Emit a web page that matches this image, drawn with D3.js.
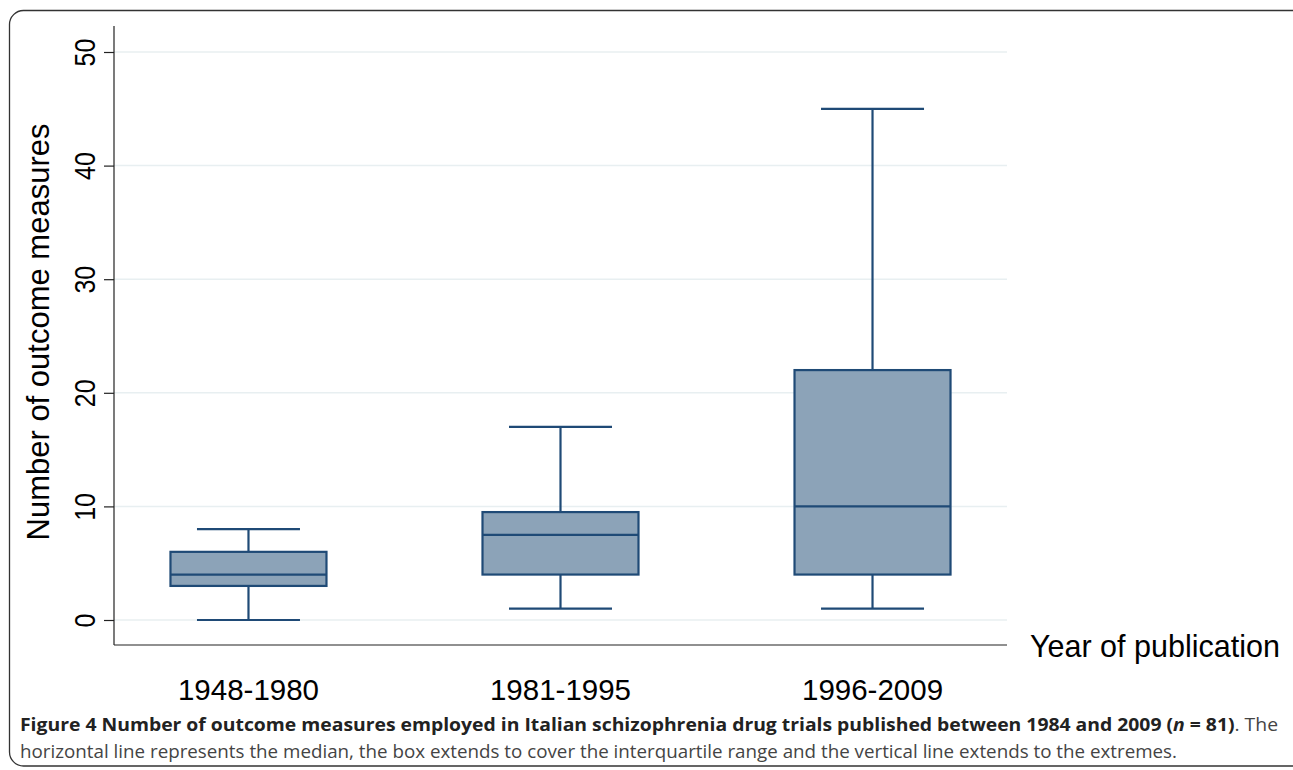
<!DOCTYPE html>
<html><head><meta charset="utf-8">
<script src="https://cdn.jsdelivr.net/npm/d3@7"></script>
<style>body{margin:0;background:#fff}svg{display:block}</style>
</head><body>
<svg id="c" width="1293" height="770"></svg>
<script>
const categories = ["1948-1980", "1981-1995", "1996-2009"];
const mins    = [0, 1, 1];
const q1s     = [3, 4, 4];
const medians = [4, 7.5, 10];
const q3s     = [6, 9.5, 22];
const maxs    = [8, 17, 45];
const yTicks  = [0, 10, 20, 30, 40, 50];

const svg = d3.select("#c");
const fill = "#8ca3b8", stroke = "#1f4a76";
const FONT = "Liberation Sans, Arial, sans-serif";

// frame
svg.append("rect").attr("x", 9.5).attr("y", 10.5).attr("width", 1300).attr("height", 755.5)
  .attr("rx", 14).attr("fill", "none").attr("stroke", "#333").attr("stroke-width", 1.3);

const y = d3.scaleLinear().domain([0, 50]).range([620, 52]);
const x = d3.scalePoint().domain(categories).range([114, 1007]).padding(0.431);

// gridlines
svg.append("g").selectAll("line").data(yTicks).join("line")
  .attr("x1", 114).attr("x2", 1007).attr("y1", d => y(d)).attr("y2", d => y(d))
  .attr("stroke", "#e8eff1").attr("stroke-width", 1.5);

// y axis
const ya = svg.append("g").attr("transform", "translate(114,0)")
  .call(d3.axisLeft(y).tickValues(yTicks).tickSize(10).tickPadding(6));
ya.select(".domain").remove();
ya.append("line").attr("x1", 0).attr("x2", 0).attr("y1", 26).attr("y2", 645).attr("stroke", "#222").attr("stroke-width", 1.2);
ya.selectAll(".tick line").attr("stroke", "#222").attr("stroke-width", 1.2);
ya.selectAll(".tick text").attr("font-family", FONT).attr("font-size", 25)
  .attr("fill", "#000").attr("text-anchor", "middle").attr("dy", null)
  .attr("transform", "translate(-29,0) scale(1.15,1) rotate(-90)").attr("x", 0).attr("y", 0)
  .attr("dominant-baseline", "central");

// x axis
svg.append("line").attr("x1", 114).attr("x2", 1007).attr("y1", 645).attr("y2", 645).attr("stroke", "#222").attr("stroke-width", 1.2);
svg.append("g").selectAll("text").data(categories).join("text")
  .attr("x", d => x(d)).attr("y", 700).attr("text-anchor", "middle")
  .attr("font-family", FONT).attr("font-size", 29.5).attr("fill", "#000")
  .text(d => d);

// axis titles
svg.append("text").attr("transform", "translate(49,332) rotate(-90)").attr("text-anchor", "middle")
  .attr("font-family", FONT).attr("font-size", 31).attr("fill", "#000")
  .text("Number of outcome measures");
svg.append("text").attr("x", 1030).attr("y", 657)
  .attr("font-family", FONT).attr("font-size", 30.5).attr("fill", "#000")
  .text("Year of publication");

// boxes
const data = categories.map((c, i) => ({c, min: mins[i], q1: q1s[i], med: medians[i], q3: q3s[i], max: maxs[i]}));
const bw = 78, cw = 51.5;
const g = svg.append("g").attr("stroke", stroke).attr("stroke-width", 2.2);
data.forEach(d => {
  const cx = x(d.c);
  g.append("line").attr("x1", cx).attr("x2", cx).attr("y1", y(d.max)).attr("y2", y(d.q3));
  g.append("line").attr("x1", cx).attr("x2", cx).attr("y1", y(d.q1)).attr("y2", y(d.min));
  g.append("line").attr("x1", cx - cw).attr("x2", cx + cw).attr("y1", y(d.max)).attr("y2", y(d.max));
  g.append("line").attr("x1", cx - cw).attr("x2", cx + cw).attr("y1", y(d.min)).attr("y2", y(d.min));
  g.append("rect").attr("x", cx - bw).attr("width", 2 * bw).attr("y", y(d.q3)).attr("height", y(d.q1) - y(d.q3))
    .attr("fill", fill);
  g.append("line").attr("x1", cx - bw).attr("x2", cx + bw).attr("y1", y(d.med)).attr("y2", y(d.med));
});

// caption
const cap = svg.append("text").attr("x", 20).attr("y", 731)
  .attr("font-family", "Open Sans, sans-serif").attr("font-size", 17.5).attr("fill", "#333")
  .attr("textLength", 1258).attr("lengthAdjust", "spacingAndGlyphs");
cap.append("tspan").attr("font-weight", "bold").attr("fill", "#222")
  .text("Figure 4 Number of outcome measures employed in Italian schizophrenia drug trials published between 1984 and 2009 (");
cap.append("tspan").attr("font-weight", "bold").attr("font-style", "italic").attr("fill", "#222").text("n");
cap.append("tspan").attr("font-weight", "bold").attr("fill", "#222").text(" = 81)");
cap.append("tspan").attr("fill", "#444").text(". The");
svg.append("text").attr("x", 20).attr("y", 758)
  .attr("font-family", "Open Sans, sans-serif").attr("font-size", 17.5).attr("fill", "#444")
  .attr("textLength", 1157).attr("lengthAdjust", "spacingAndGlyphs")
  .text("horizontal line represents the median, the box extends to cover the interquartile range and the vertical line extends to the extremes.");
</script>
</body></html>
